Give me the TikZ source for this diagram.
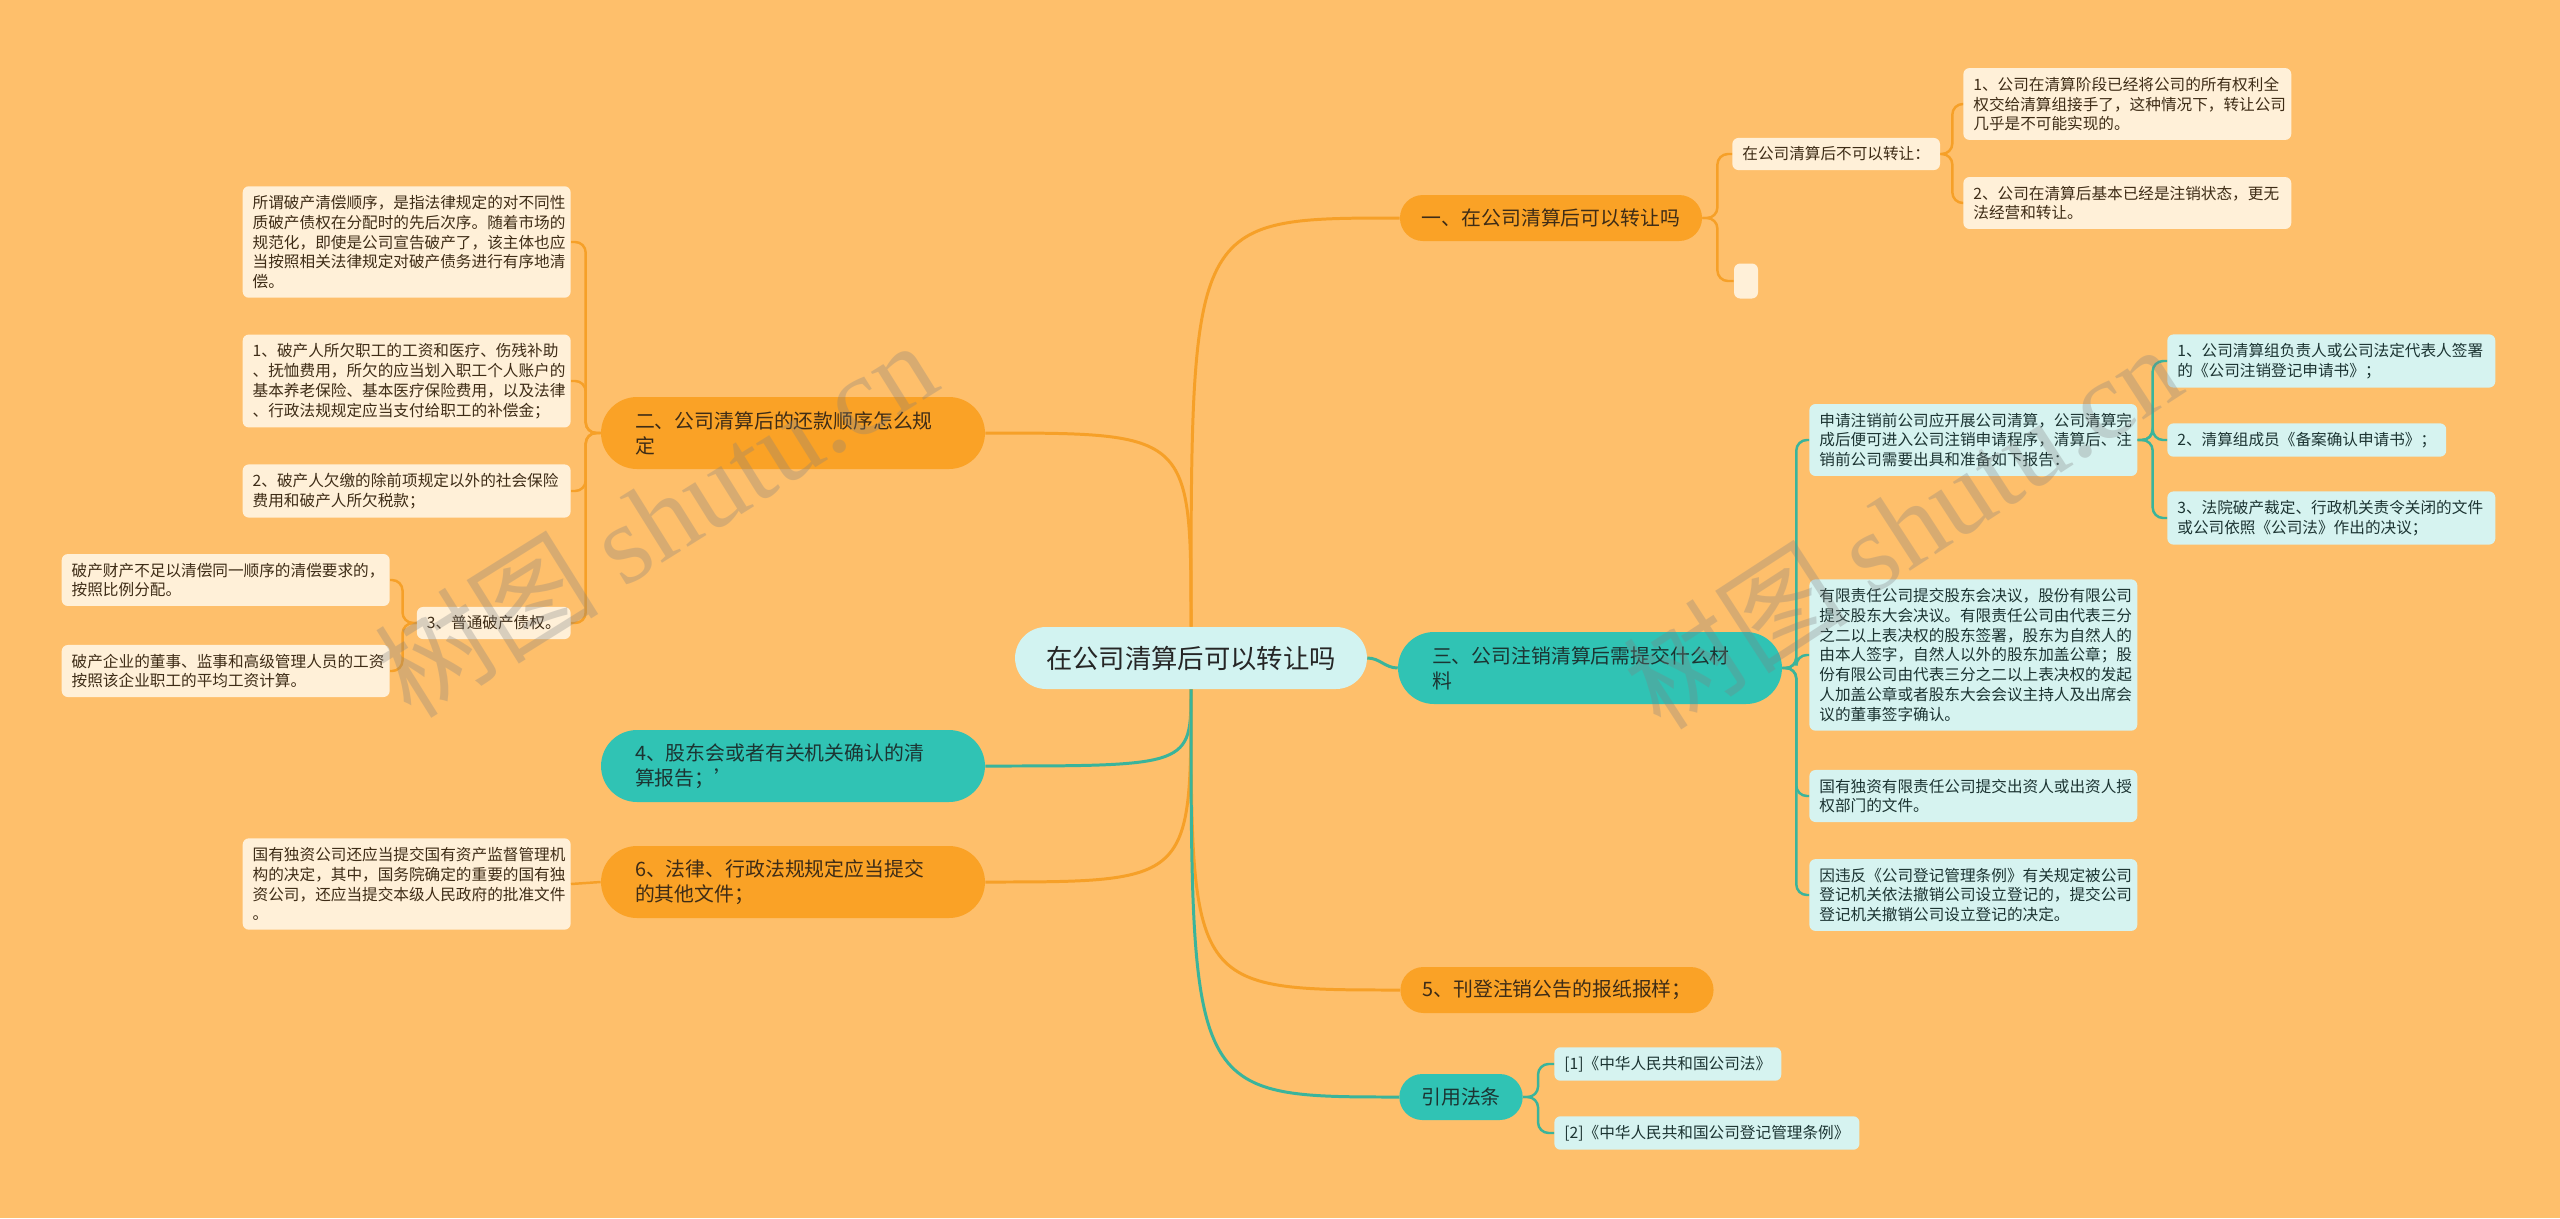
\documentclass[tikz,border=0pt]{standalone}
\usepackage{fontspec}
\setmainfont{Noto Sans CJK SC}
\newfontfamily\wmfont{Liberation Serif}
\definecolor{paper}{RGB}{254,191,107}
\definecolor{brorange}{RGB}{250,162,38}
\definecolor{lforange}{RGB}{255,240,216}
\definecolor{brteal}{RGB}{48,195,180}
\definecolor{lfteal}{RGB}{214,243,240}
\definecolor{rootfill}{RGB}{210,243,241}
\definecolor{lnorange}{RGB}{246,160,40}
\definecolor{lnteal}{RGB}{58,180,155}
\definecolor{txtbrown}{RGB}{62,44,22}
\definecolor{txtteal}{RGB}{28,52,50}

\begin{document}
\begin{tikzpicture}[x=0.02cm,y=-0.02cm]
\tikzstyle{root}=[rectangle,fill=rootfill,text=black!85,rounded corners=0.62cm,inner xsep=0.62cm,minimum height=1.24cm,font=\fontsize{15}{18}\selectfont]
\tikzstyle{branch}=[rectangle,inner xsep=0.44cm,minimum height=0.92cm,rounded corners=0.46cm,font=\fontsize{11.3}{14.2}\selectfont]
\tikzstyle{tall}=[text width=6.32cm,inner xsep=0.68cm,minimum height=1.44cm,rounded corners=0.72cm,align=left]
\tikzstyle{obranch}=[branch,fill=brorange,text=txtbrown]
\tikzstyle{tbranch}=[branch,fill=brteal,text=txtteal]
\tikzstyle{leaf}=[rectangle,rounded corners=3.5pt,inner xsep=0.2cm,inner ysep=5pt,align=left,font=\fontsize{8.9}{11.3}\selectfont]
\tikzstyle{wide}=[text width=6.16cm]
\tikzstyle{oleaf}=[leaf,fill=lforange,text=txtbrown]
\tikzstyle{tleaf}=[leaf,fill=lfteal,text=txtteal]
\tikzstyle{oline}=[draw=lnorange,line width=1.7pt]
\tikzstyle{tline}=[draw=lnteal,line width=1.7pt]
\tikzstyle{ofork}=[draw=lnorange,line width=1.4pt,rounded corners=6pt]
\tikzstyle{tfork}=[draw=lnteal,line width=1.4pt,rounded corners=6pt]
\tikzstyle{watermark}=[text=black!50,text opacity=0.3,font=\fontsize{64}{64}\selectfont]

\fill[paper] (0,0) rectangle (2560,1218);
\useasboundingbox (0,0) rectangle (2560,1218);

\node[root] (main) at (1191,658) {在公司清算后可以转让吗};

\node[obranch] (one) at (1551,218) {一、在公司清算后可以转让吗};
\node[obranch,tall] (two) at (793,433) {二、公司清算后的还款顺序怎么规\\定};
\node[tbranch,tall] (three) at (1590,668) {三、公司注销清算后需提交什么材\\料};
\node[tbranch,tall] (four) at (793,766) {4、股东会或者有关机关确认的清\\算报告；'};
\node[obranch,tall] (six) at (793,882) {6、法律、行政法规规定应当提交\\的其他文件；};
\node[obranch] (five) at (1557,990) {5、刊登注销公告的报纸报样；};
\node[tbranch] (cite) at (1461,1097) {引用法条};

\node[oleaf,anchor=west] (nottrans) at (1732,154) {在公司清算后不可以转让：};
\node[oleaf,minimum width=0.48cm,minimum height=0.7cm] (blank) at (1746,281) {};
\node[oleaf,wide,anchor=west] (handover) at (1963,104) {1、公司在清算阶段已经将公司的所有权利全\\权交给清算组接手了，这种情况下，转让公司\\几乎是不可能实现的。};
\node[oleaf,wide,anchor=west] (dissolved) at (1963,203) {2、公司在清算后基本已经是注销状态，更无\\法经营和转让。};

\node[tleaf,wide,anchor=west] (apply) at (1809,440) {申请注销前公司应开展公司清算，公司清算完\\成后便可进入公司注销申请程序，清算后、注\\销前公司需要出具和准备如下报告：};
\node[tleaf,wide,anchor=west] (signer) at (2167,361) {1、公司清算组负责人或公司法定代表人签署\\的《公司注销登记申请书》；};
\node[tleaf,anchor=west] (filing) at (2167,440) {2、清算组成员《备案确认申请书》；};
\node[tleaf,wide,anchor=west] (court) at (2167,518) {3、法院破产裁定、行政机关责令关闭的文件\\或公司依照《公司法》作出的决议；};
\node[tleaf,wide,anchor=west] (resolution) at (1809,655) {有限责任公司提交股东会决议，股份有限公司\\提交股东大会决议。有限责任公司由代表三分\\之二以上表决权的股东签署，股东为自然人的\\由本人签字，自然人以外的股东加盖公章；股\\份有限公司由代表三分之二以上表决权的发起\\人加盖公章或者股东大会会议主持人及出席会\\议的董事签字确认。};
\node[tleaf,wide,anchor=west] (stateown) at (1809,796) {国有独资有限责任公司提交出资人或出资人授\\权部门的文件。};
\node[tleaf,wide,anchor=west] (revoked) at (1809,895) {因违反《公司登记管理条例》有关规定被公司\\登记机关依法撤销公司设立登记的，提交公司\\登记机关撤销公司设立登记的决定。};

\node[tleaf,anchor=west] (law1) at (1554,1064) {[1]《中华人民共和国公司法》};
\node[tleaf,anchor=west] (law2) at (1554,1133) {[2]《中华人民共和国公司登记管理条例》};

\node[oleaf,wide,anchor=east] (orderdef) at (571,242) {所谓破产清偿顺序，是指法律规定的对不同性\\质破产债权在分配时的先后次序。随着市场的\\规范化，即使是公司宣告破产了，该主体也应\\当按照相关法律规定对破产债务进行有序地清\\偿。};
\node[oleaf,wide,anchor=east] (wages) at (571,381) {1、破产人所欠职工的工资和医疗、伤残补助\\、抚恤费用，所欠的应当划入职工个人账户的\\基本养老保险、基本医疗保险费用，以及法律\\、行政法规规定应当支付给职工的补偿金；};
\node[oleaf,wide,anchor=east] (insurance) at (571,491) {2、破产人欠缴的除前项规定以外的社会保险\\费用和破产人所欠税款；};
\node[oleaf,anchor=east] (general) at (571,623) {3、普通破产债权。};
\node[oleaf,wide,anchor=east] (prorata) at (390,580) {破产财产不足以清偿同一顺序的清偿要求的，\\按照比例分配。};
\node[oleaf,wide,anchor=east] (mgmtpay) at (390,671) {破产企业的董事、监事和高级管理人员的工资\\按照该企业职工的平均工资计算。};
\node[oleaf,wide,anchor=east] (sasac) at (571,884) {国有独资公司还应当提交国有资产监督管理机\\构的决定，其中，国务院确定的重要的国有独\\资公司，还应当提交本级人民政府的批准文件\\。};

\draw[oline] (main.north) .. controls (main.north |- one.west) .. (one.west);
\draw[oline] (main.north) .. controls (main.north |- two.east) .. (two.east);
\draw[tline] (main.east) to[out=0,in=180] (three.west);
\draw[tline] (main.south) .. controls (main.south |- four.east) .. (four.east);
\draw[oline] (main.south) .. controls (main.south |- six.east) .. (six.east);
\draw[oline] (main.south) .. controls (main.south |- five.west) .. (five.west);
\draw[tline] (main.south) .. controls (main.south |- cite.west) .. (cite.west);

\draw[ofork] (one.east) -- ++(15,0) |- (nottrans.west);
\draw[ofork] (one.east) -- ++(15,0) |- (blank.west);
\draw[ofork] (nottrans.east) -- ++(12,0) |- (handover.west);
\draw[ofork] (nottrans.east) -- ++(12,0) |- (dissolved.west);
\draw[tfork] (three.east) -- ++(14,0) |- (apply.west);
\draw[tfork] (three.east) -- ++(14,0) |- (resolution.west);
\draw[tfork] (three.east) -- ++(14,0) |- (stateown.west);
\draw[tfork] (three.east) -- ++(14,0) |- (revoked.west);
\draw[tfork] (apply.east) -- ++(15,0) |- (signer.west);
\draw[tfork] (apply.east) -- ++(15,0) |- (filing.west);
\draw[tfork] (apply.east) -- ++(15,0) |- (court.west);
\draw[tfork] (cite.east) -- ++(15,0) |- (law1.west);
\draw[tfork] (cite.east) -- ++(15,0) |- (law2.west);
\draw[ofork] (two.west) -- ++(-15,0) |- (orderdef.east);
\draw[ofork] (two.west) -- ++(-15,0) |- (wages.east);
\draw[ofork] (two.west) -- ++(-15,0) |- (insurance.east);
\draw[ofork] (two.west) -- ++(-15,0) |- (general.east);
\draw[ofork] (general.west) -- ++(-14,0) |- (prorata.east);
\draw[ofork] (general.west) -- ++(-14,0) |- (mgmtpay.east);
\draw[ofork] (six.west) -- (sasac.east);

\node[watermark,rotate=32] (markleft) at (655,518) {树图 {\wmfont shutu.cn}};
\node[watermark,rotate=33] (markright) at (1902,526) {树图 {\wmfont shutu.cn}};
\end{tikzpicture}
\end{document}
